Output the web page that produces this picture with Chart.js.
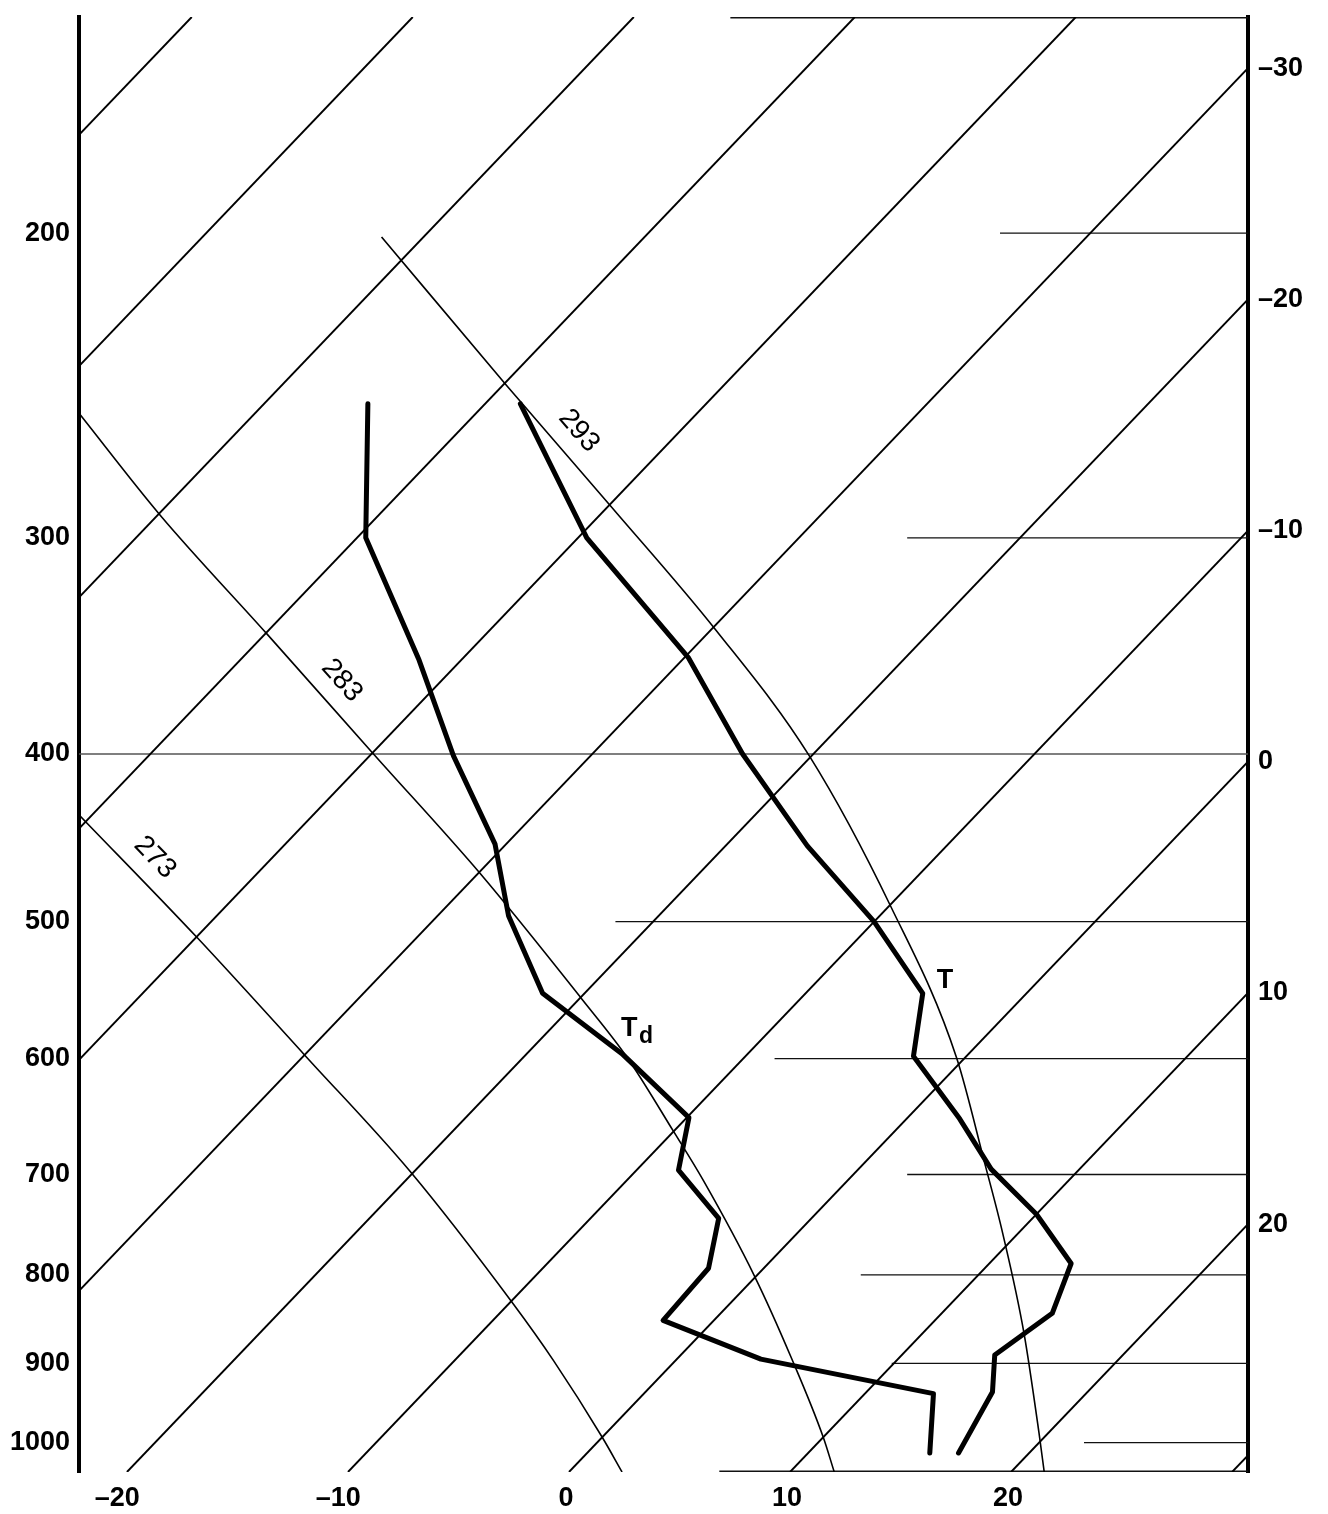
<!DOCTYPE html>
<html>
<head>
<meta charset="utf-8">
<title>Skew-T sounding</title>
<script src="https://cdn.jsdelivr.net/npm/chart.js@4.4.1/dist/chart.umd.min.js"></script>
<style>
  html, body { margin: 0; padding: 0; background: #fff; }
  canvas { display: block; }
</style>
</head>
<body>
<canvas id="skewT" width="1328" height="1514"></canvas>
<script>
// axis labels
const pressureTicks = [200, 300, 400, 500, 600, 700, 800, 900, 1000];
const bottomTempTicks = [-20, -10, 0, 10, 20];
const rightTempTicks = [-30, -20, -10, 0, 10, 20];

// background grid: isotherms (°C) and isobars (hPa, with the skewed x where each drawn segment starts)
const isothermTemps = [-80, -70, -60, -50, -40, -30, -20, -10, 0, 10, 20, 30];
const isobarLevels = [150, 200, 300, 400, 500, 600, 700, 800, 900, 1000, 1040];
const isobarStart = [7.3, 19.5, 15.3, -22.2, 2.1, 9.3, 15.3, 13.2, 14.6, 23.3, 6.8];

// saturated adiabats, named by wet-bulb potential temperature (K)
const adiabatNames = ["273", "283", "293"];
const adiabat273P = [433, 511, 598, 697, 830, 897, 993, 1040];
const adiabat273T = [-50.7, -39.9, -29.9, -20.2, -9.9, -5.5, 0.0, 2.4];
const adiabat283P = [254, 291, 341, 400, 469, 554, 599, 661, 706, 801, 893, 993, 1040];
const adiabat283T = [-68.0, -59.9, -49.9, -39.9, -29.9, -19.9, -15.3, -10.0, -6.5, -0.1, 5.1, 10.0, 12.0];
const adiabat293P = [201, 245, 288, 339, 401, 490, 599, 692, 757, 865, 988, 1040];
const adiabat293T = [-61.9, -49.8, -39.8, -29.8, -20.1, -9.9, -0.4, 5.6, 9.3, 14.6, 19.6, 21.5];

// the sounding: temperature and dew point (°C) against pressure (hPa)
const tempP = [251, 300, 352, 400, 452, 500, 550, 598, 650, 695, 738, 788, 842, 890, 935, 1014];
const tempT = [-48.4, -39.6, -29.8, -23.2, -16.3, -10.0, -4.7, -2.4, 2.4, 6.0, 10.0, 13.7, 15.0, 14.2, 15.7, 16.8];
const dewP = [251, 300, 353, 401, 451, 496, 550, 596, 649, 696, 742, 793, 850, 895, 937, 1014];
const dewT = [-55.3, -49.6, -41.9, -36.2, -30.5, -26.8, -21.9, -15.7, -9.9, -8.1, -4.2, -2.5, -2.3, 3.8, 13.1, 15.5];

const P_TOP = 150;
const P_BOTTOM = 1040;
const SKEW = 32.5;     // °C of x-shift per unit of ln p
const X_MIN = -22.17;
const X_MAX = 30.72;

const skewX = (t, p) => t + SKEW * Math.log(P_BOTTOM / p);
const toPoints = (ps, ts) => ps.map((p, i) => ({ x: skewX(ts[i], p), y: p }));
const tempLabel = (v) => (v < 0 ? "\u2013" + Math.abs(v) : String(v));

Chart.defaults.font.family = "'Liberation Sans', Arial, Helvetica, sans-serif";
Chart.defaults.color = "#000";

const adiabats = [
  { p: adiabat273P, t: adiabat273T },
  { p: adiabat283P, t: adiabat283T },
  { p: adiabat293P, t: adiabat293T },
];

const datasets = [];

datasets.push({
  label: "T",
  data: toPoints(tempP, tempT),
  borderColor: "#000",
  borderWidth: 5,
  borderCapStyle: "round",
  borderJoinStyle: "round",
  order: 0,
});
datasets.push({
  label: "Td",
  data: toPoints(dewP, dewT),
  borderColor: "#000",
  borderWidth: 5,
  borderCapStyle: "round",
  borderJoinStyle: "round",
  order: 0,
});

adiabats.forEach((a, i) => {
  datasets.push({
    label: adiabatNames[i],
    data: toPoints(a.p, a.t),
    borderColor: "#000",
    borderWidth: 1.6,
    cubicInterpolationMode: "monotone",
    order: 1,
  });
});

isothermTemps.forEach((t) => {
  datasets.push({
    label: "iso " + t,
    data: [{ x: skewX(t, P_BOTTOM), y: P_BOTTOM }, { x: skewX(t, P_TOP), y: P_TOP }],
    borderColor: "#000",
    borderWidth: 1.9,
    order: 2,
  });
});

isobarLevels.forEach((p, i) => {
  const edge = p === P_TOP || p === P_BOTTOM;
  datasets.push({
    label: "p " + p,
    data: [{ x: isobarStart[i], y: p }, { x: X_MAX, y: p }],
    borderColor: p === 400 ? "#555" : "#111",
    borderWidth: edge ? 3 : 1.3,
    order: 3,
  });
});

// T at a given pressure along a curve, linear in ln p
function curveTemp(a, p) {
  for (let i = 0; i < a.p.length - 1; i++) {
    if (p >= a.p[i] && p <= a.p[i + 1]) {
      const f = Math.log(p / a.p[i]) / Math.log(a.p[i + 1] / a.p[i]);
      return a.t[i] + f * (a.t[i + 1] - a.t[i]);
    }
  }
  return a.t[a.p.length - 1];
}

const adiabatLabelP = [470, 371, 266];

const curveLabels = {
  id: "curveLabels",
  afterDatasetsDraw(chart) {
    const { ctx, scales } = chart;
    const px = (t, p) => [scales.x.getPixelForValue(skewX(t, p)), scales.y.getPixelForValue(p)];
    ctx.save();
    ctx.fillStyle = "#000";

    // adiabat names, turned along the line
    ctx.font = "28px 'Liberation Sans', Arial, sans-serif";
    ctx.textAlign = "center";
    ctx.textBaseline = "middle";
    adiabats.forEach((a, i) => {
      const p = adiabatLabelP[i];
      const [x0, y0] = px(curveTemp(a, p * 0.97), p * 0.97);
      const [x1, y1] = px(curveTemp(a, p * 1.03), p * 1.03);
      const ang = Math.atan2(y1 - y0, x1 - x0);
      const off = 25;
      ctx.save();
      ctx.translate((x0 + x1) / 2 + off * Math.sin(ang), (y0 + y1) / 2 - off * Math.cos(ang));
      ctx.rotate(ang);
      ctx.fillText(adiabatNames[i], 0, 0);
      ctx.restore();
    });

    // curve names
    ctx.textAlign = "left";
    ctx.font = "bold 27px 'Liberation Sans', Arial, sans-serif";
    const [tx, ty] = px(tempT[6], tempP[6]);
    ctx.fillText("T", tx + 14, ty - 13);
    const [dx, dy] = px(dewT[7], dewP[7]);
    ctx.fillText("T", dx - 1, dy - 25);
    ctx.font = "bold 23px 'Liberation Sans', Arial, sans-serif";
    ctx.fillText("d", dx + 17, dy - 17);
    ctx.restore();
  },
};

// keep the plot box fixed: no extra room for half-labels at the ends
const noEndPadding = (scale) => {
  scale.paddingTop = 0;
  scale.paddingBottom = 0;
  scale.paddingLeft = 0;
  scale.paddingRight = 0;
};

new Chart(document.getElementById("skewT").getContext("2d"), {
  type: "line",
  data: { datasets },
  options: {
    responsive: false,
    animation: false,
    events: [],
    layout: { padding: { top: 17, left: 0, right: 0, bottom: 0 } },
    elements: { point: { radius: 0 } },
    plugins: { legend: { display: false }, tooltip: { enabled: false } },
    scales: {
      x: {
        type: "linear",
        position: "bottom",
        min: X_MIN,
        max: X_MAX,
        grid: { display: false, drawTicks: false },
        border: { display: false },
        afterBuildTicks: (scale) => {
          scale.ticks = bottomTempTicks.map((v) => ({ value: v }));
        },
        afterFit: (scale) => { scale.height = 42; noEndPadding(scale); },
        ticks: {
          autoSkip: false,
          maxRotation: 0,
          padding: 10,
          labelOffset: -3,
          font: { size: 27, weight: "bold" },
          // pad negatives so the digits sit on the isotherm
          callback: (v) => (v < 0 ? tempLabel(v) + "\u2002" : tempLabel(v)),
        },
      },
      y: {
        type: "logarithmic",
        position: "left",
        reverse: true,
        min: P_TOP,
        max: P_BOTTOM,
        grid: { display: false, drawTicks: false },
        border: { display: true, color: "#000", width: 4 },
        afterBuildTicks: (scale) => {
          scale.ticks = pressureTicks.map((v) => ({ value: v }));
        },
        afterFit: (scale) => { scale.width = 79; noEndPadding(scale); },
        ticks: {
          autoSkip: false,
          padding: 9,
          font: { size: 27, weight: "bold" },
          callback: (v) => String(v),
        },
      },
      yR: {
        type: "logarithmic",
        position: "right",
        reverse: true,
        min: P_TOP,
        max: P_BOTTOM,
        grid: { display: false, drawTicks: false },
        border: { display: true, color: "#000", width: 4 },
        // ticks where each isotherm meets the right edge
        afterBuildTicks: (scale) => {
          scale.ticks = rightTempTicks.map((t) => ({
            value: P_BOTTOM * Math.exp(-(X_MAX - t) / SKEW),
          }));
        },
        afterFit: (scale) => { scale.width = 80; noEndPadding(scale); },
        ticks: {
          autoSkip: false,
          padding: 10,
          font: { size: 27, weight: "bold" },
          callback: (v, i) => tempLabel(rightTempTicks[i]),
        },
      },
    },
  },
  plugins: [curveLabels],
});
</script>
</body>
</html>
